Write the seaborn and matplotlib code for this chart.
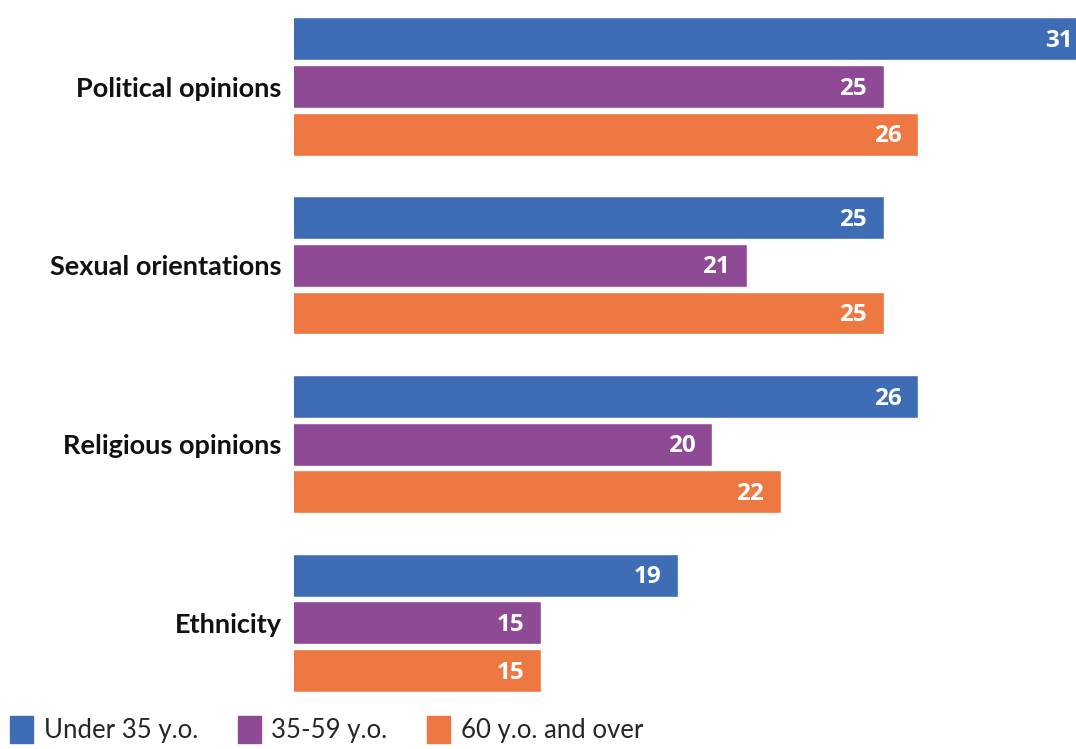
import matplotlib.pyplot as plt
import matplotlib.patches as mpatches
import pandas as pd
import seaborn as sns

categories = ["Political opinions", "Sexual orientations", "Religious opinions", "Ethnicity"]
groups = ["Under 35 y.o.", "35-59 y.o.", "60 y.o. and over"]
under35 = [31, 25, 26, 19]
mid = [25, 21, 20, 15]
over60 = [26, 25, 22, 15]
colors = ["#3E6DB5", "#8E4A94", "#EE7841"]

rows = []
for g, vals in zip(groups, [under35, mid, over60]):
    for c, v in zip(categories, vals):
        rows.append({"category": c, "group": g, "value": v})
df = pd.DataFrame(rows)

sns.set_style("white")
plt.rcParams['font.family'] = ['Lato', 'DejaVu Sans']

fig = plt.figure(figsize=(10.76, 7.49), dpi=100)
ax = fig.add_axes([294 / 1076, 49 / 749, 782 / 1076, 700 / 749])

sns.barplot(data=df, y="category", x="value", hue="group", order=categories,
            hue_order=groups, palette=colors, width=0.8, gap=0.1,
            orient="h", legend=False, ax=ax, saturation=1)

ax.set_xlim(7.79, 30.61)
ax.set_ylim(3.431, -0.484)
ax.set_xlabel("")
ax.set_ylabel("")
ax.set_xticks([])
ax.tick_params(axis="y", length=0, pad=9)
for lbl in ax.get_yticklabels():
    lbl.set_fontsize(19.5)
    lbl.set_fontweight("bold")
    lbl.set_color("#111111")
sns.despine(ax=ax, left=True, bottom=True)

for cont in ax.containers:
    for bar in cont:
        w = bar.get_width()
        y = bar.get_y() + bar.get_height() / 2
        ax.annotate(f"{w:.0f}", (w, y), xytext=(-12, -1.5), textcoords="offset points",
                    ha="right", va="center", color="white", fontsize=17.5,
                    family=["Open Sans", "DejaVu Sans"], fontweight="bold",
                    annotation_clip=False)

handles = [mpatches.Patch(color=c, label=g) for c, g in zip(colors, groups)]
fig.legend(handles=handles, loc="lower left", bbox_to_anchor=(0.0, -0.006),
           ncol=3, frameon=False, fontsize=18.5, handlelength=0.9, handleheight=1.2,
           handletextpad=0.4, columnspacing=1.55, borderaxespad=0)

fig.savefig("out.png", dpi=100)
